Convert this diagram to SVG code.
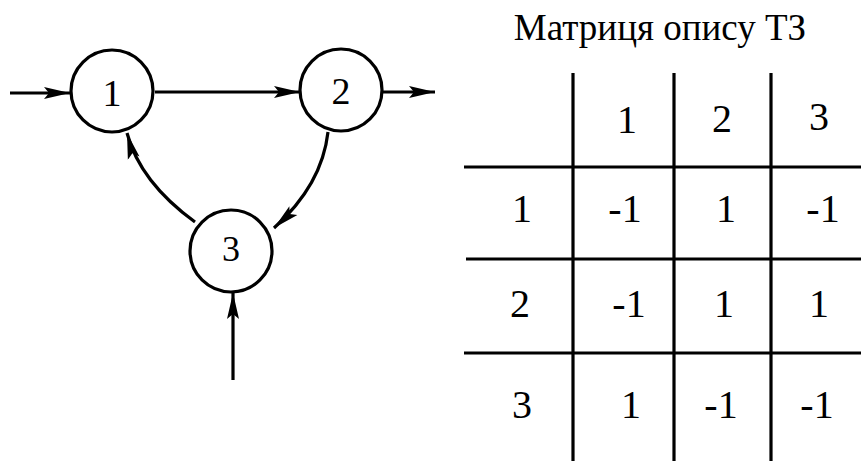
<svg xmlns="http://www.w3.org/2000/svg" width="861" height="461" viewBox="0 0 861 461">
<style>
.n{fill:#fff;stroke:#000;stroke-width:3.2}
.c{fill:none;stroke:#000;stroke-width:3.2}
.t{font-family:"Liberation Serif","Times New Roman",serif;fill:#000;text-anchor:middle}
.g{stroke:#000;stroke-width:3.2}
</style>
<defs>
<marker id="ah" markerUnits="userSpaceOnUse" markerWidth="28" markerHeight="14" refX="26" refY="7" orient="auto">
<path d="M0,1 L26,7 L0,13 L5,7 Z" fill="#000"/>
</marker>
</defs>
<rect width="861" height="461" fill="#fff"/>
<g id="connectors">
<line class="c" x1="10" y1="93" x2="70" y2="93" marker-end="url(#ah)"/>
<line class="c" x1="155" y1="92" x2="300" y2="92" marker-end="url(#ah)"/>
<line class="c" x1="383" y1="92" x2="435" y2="92" marker-end="url(#ah)"/>
<path class="c" d="M328,132 Q322,185 274,228" marker-end="url(#ah)"/>
<path class="c" d="M195,222 Q140,182 127,133" marker-end="url(#ah)"/>
<line class="c" x1="233" y1="380" x2="233" y2="293" marker-end="url(#ah)"/>
</g>
<g id="node1"><circle class="n" cx="112" cy="91" r="41"/><text class="t" x="112" y="106" font-size="38">1</text></g>
<g id="node2"><circle class="n" cx="341" cy="90" r="41"/><text class="t" x="341" y="104" font-size="38">2</text></g>
<g id="node3"><circle class="n" cx="231" cy="251" r="41"/><text class="t" x="231" y="261" font-size="36">3</text></g>
<g id="matrix">
<text class="t" x="660" y="40" font-size="37">Матриця опису ТЗ</text>
<line class="g" x1="573" y1="73" x2="573" y2="461"/>
<line class="g" x1="674" y1="73" x2="674" y2="461"/>
<line class="g" x1="771" y1="73" x2="771" y2="461"/>
<line class="g" x1="464" y1="167" x2="861" y2="167"/>
<line class="g" x1="466" y1="259" x2="861" y2="259"/>
<line class="g" x1="464" y1="353" x2="861" y2="353"/>
<g font-size="40">
<text class="t" x="627" y="133">1</text>
<text class="t" x="722" y="132">2</text>
<text class="t" x="819" y="130">3</text>
<text class="t" x="522" y="222">1</text>
<text class="t" x="625" y="222">-1</text>
<text class="t" x="726" y="222">1</text>
<text class="t" x="823" y="222">-1</text>
<text class="t" x="520" y="317">2</text>
<text class="t" x="629" y="317">-1</text>
<text class="t" x="724" y="317">1</text>
<text class="t" x="819" y="317">1</text>
<text class="t" x="522" y="418">3</text>
<text class="t" x="631" y="418">1</text>
<text class="t" x="721" y="418">-1</text>
<text class="t" x="817" y="418">-1</text>
</g>
</g>
</svg>
